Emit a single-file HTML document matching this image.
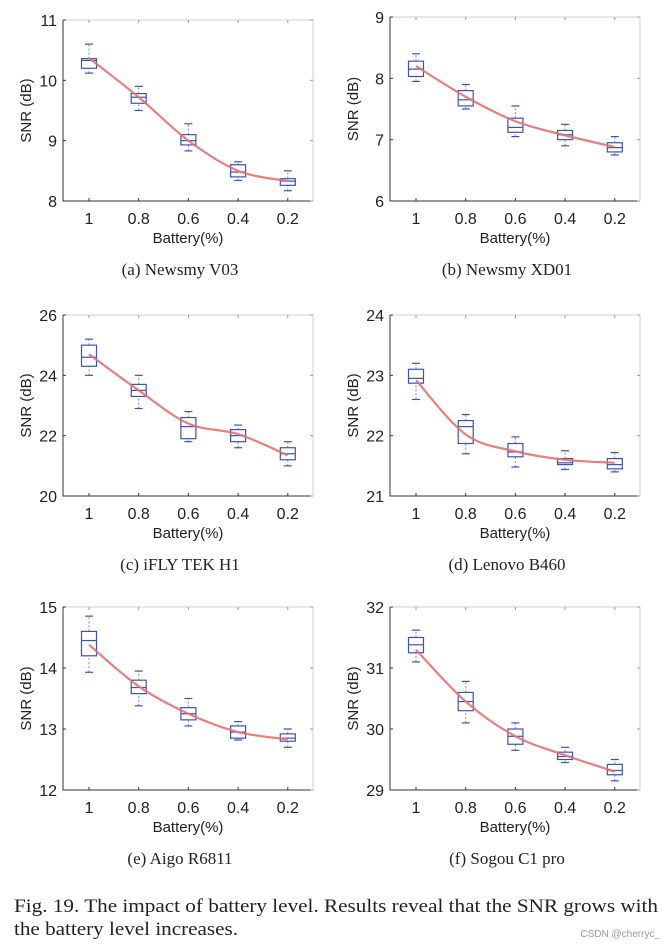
<!DOCTYPE html>
<html><head><meta charset="utf-8"><style>
body{margin:0;background:#fff;width:664px;height:947px;overflow:hidden}
svg{display:block}
.cap{font-family:"Liberation Serif",serif}
</style></head><body>
<svg id="fig" width="664" height="947" xmlns="http://www.w3.org/2000/svg">
<text class="cap" x="14" y="912" font-size="18.5" fill="#222" textLength="644" lengthAdjust="spacingAndGlyphs">Fig. 19.  The impact of battery level. Results reveal that the SNR grows with</text>
<text class="cap" x="14" y="935" font-size="18.5" fill="#222" textLength="224" lengthAdjust="spacingAndGlyphs">the battery level increases.</text>
<text x="660" y="937" text-anchor="end" font-family="Liberation Sans,sans-serif" font-size="10" fill="#999">CSDN @cherryc_</text>
</svg>
<script>
const categories=["1","0.8","0.6","0.4","0.2"];
const titles=["(a) Newsmy V03","(b) Newsmy XD01","(c) iFLY TEK H1","(d) Lenovo B460","(e) Aigo R6811","(f) Sogou C1 pro"];
const yTicksA=[8,9,10,11],yTicksB=[6,7,8,9],yTicksC=[20,22,24,26],yTicksD=[21,22,23,24],yTicksE=[12,13,14,15],yTicksF=[29,30,31,32];
// box stats per category: [whiskerLow,q1,median,q3,whiskerHigh]
const boxesA=[[10.12,10.2,10.33,10.36,10.6],[9.5,9.62,9.72,9.78,9.9],[8.83,8.93,9.0,9.1,9.28],[8.34,8.4,8.48,8.6,8.65],[8.17,8.26,8.33,8.37,8.5]];
const boxesB=[[7.95,8.03,8.15,8.28,8.4],[7.5,7.55,7.65,7.8,7.9],[7.05,7.12,7.2,7.35,7.55],[6.9,7.0,7.08,7.15,7.25],[6.75,6.8,6.87,6.95,7.05]];
const boxesC=[[24.0,24.3,24.6,25.0,25.2],[22.9,23.3,23.5,23.7,24.0],[21.8,21.9,22.3,22.6,22.8],[21.6,21.8,22.0,22.2,22.35],[21.0,21.2,21.4,21.6,21.8]];
const boxesD=[[22.6,22.87,22.95,23.1,23.2],[21.7,21.87,22.15,22.25,22.35],[21.48,21.65,21.73,21.87,21.98],[21.44,21.52,21.55,21.62,21.75],[21.4,21.45,21.52,21.62,21.72]];
const boxesE=[[13.93,14.2,14.45,14.6,14.85],[13.38,13.58,13.68,13.8,13.95],[13.05,13.15,13.25,13.35,13.5],[12.82,12.85,12.95,13.05,13.12],[12.7,12.8,12.85,12.92,13.0]];
const boxesF=[[31.1,31.25,31.38,31.5,31.62],[30.1,30.3,30.45,30.6,30.78],[29.65,29.75,29.88,30.0,30.1],[29.45,29.5,29.55,29.62,29.7],[29.15,29.25,29.32,29.42,29.5]];
const meansA=[10.37,9.72,9.0,8.5,8.33];
const meansB=[8.2,7.7,7.3,7.07,6.88];
const meansC=[24.7,23.5,22.4,22.05,21.35];
const meansD=[22.92,22.02,21.74,21.6,21.55];
const meansE=[14.38,13.7,13.25,12.95,12.83];
const meansF=[31.3,30.45,29.88,29.57,29.3];

const NS="http://www.w3.org/2000/svg";
const svg=document.getElementById('fig');
function mk(t,a,p){const e=document.createElementNS(NS,t);for(const k in a)e.setAttribute(k,a[k]);(p||svg).appendChild(e);return e;}
const panels=[
 {x0:63,y0:20,yt:yTicksA,bx:boxesA,mn:meansA,name:'a'},
 {x0:390,y0:17,yt:yTicksB,bx:boxesB,mn:meansB,name:'b'},
 {x0:63,y0:315,yt:yTicksC,bx:boxesC,mn:meansC,name:'c'},
 {x0:390,y0:315,yt:yTicksD,bx:boxesD,mn:meansD,name:'d'},
 {x0:63,y0:607,yt:yTicksE,bx:boxesE,mn:meansE,name:'e'},
 {x0:390,y0:607,yt:yTicksF,bx:boxesF,mn:meansF,name:'f'}];
const bottoms=[201,201,496,496,790,790];
panels.forEach((P,i)=>{
 const W=250,y1=bottoms[i],H=y1-P.y0;
 const g=mk('g',{});
 
 
 const lo=P.yt[0],hi=P.yt[P.yt.length-1];
 const ys=v=>y1-(v-lo)/(hi-lo)*H;
 const xs=j=>P.x0+26+j*49.7;
 const sans='Liberation Sans, sans-serif';
 mk('path',{d:`M${P.x0} ${P.y0}H${P.x0+W}V${y1}`,fill:'none',stroke:'#d0d0d0','stroke-width':1},g);
 const ax=mk('path',{d:`M${P.x0} ${P.y0}V${y1}H${P.x0+W}`,fill:'none',stroke:'#333','stroke-width':1},g);
 
 P.yt.forEach(t=>{const y=ys(t);
  mk('line',{x1:P.x0,x2:P.x0+3,y1:y,y2:y,stroke:'#333'},g);
  mk('line',{x1:P.x0+W-3,x2:P.x0+W,y1:y,y2:y,stroke:'#999'},g);
  const tx=mk('text',{x:P.x0-6,y:y+6,'text-anchor':'end','font-family':sans,'font-size':16,fill:'#222'},g);tx.textContent=t;
  
 });
 categories.forEach((c,j)=>{const x=xs(j);
  mk('line',{x1:x,x2:x,y1:y1,y2:y1-3,stroke:'#333'},g);
  mk('line',{x1:x,x2:x,y1:P.y0,y2:P.y0+3,stroke:'#999'},g);
  const tx=mk('text',{x:x,y:y1+23,'text-anchor':'middle','font-family':sans,'font-size':16,fill:'#222'},g);tx.textContent=c;
  
  const b=P.bx[j],hw=7.5;
  const bg=mk('g',{stroke:'#3a55b0','stroke-width':1.2,fill:'none'},g);
  
  
  mk('line',{x1:x,x2:x,y1:ys(b[0]),y2:ys(b[1]),'stroke-dasharray':'2,2','stroke-opacity':0.6},bg);
  mk('line',{x1:x,x2:x,y1:ys(b[3]),y2:ys(b[4]),'stroke-dasharray':'2,2','stroke-opacity':0.6},bg);
  mk('line',{x1:x-4,x2:x+4,y1:ys(b[0]),y2:ys(b[0])},bg);
  mk('line',{x1:x-4,x2:x+4,y1:ys(b[4]),y2:ys(b[4])},bg);
  mk('rect',{x:x-hw,y:ys(b[3]),width:2*hw,height:Math.max(1,ys(b[1])-ys(b[3]))},bg);
  mk('line',{x1:x-hw,x2:x+hw,y1:ys(b[2]),y2:ys(b[2])},bg);
 });
 const pts=P.mn.map((v,j)=>[xs(j),ys(v)]);
 let d=`M${pts[0][0]} ${pts[0][1]}`;
 for(let k=0;k<pts.length-1;k++){const p0=pts[Math.max(0,k-1)],p1=pts[k],p2=pts[k+1],p3=pts[Math.min(pts.length-1,k+2)];
  d+=` C${p1[0]+(p2[0]-p0[0])/6} ${p1[1]+(p2[1]-p0[1])/6} ${p2[0]-(p3[0]-p1[0])/6} ${p2[1]-(p3[1]-p1[1])/6} ${p2[0]} ${p2[1]}`;}
 const ln=mk('path',{d:d,fill:'none',stroke:'#e87070','stroke-width':2.2,'stroke-opacity':0.9},g);
 
 
 const yl=mk('text',{transform:`translate(${P.x0-32},${(P.y0+y1)/2}) rotate(-90)`,'text-anchor':'middle','font-family':sans,'font-size':15,fill:'#222'},g);
 yl.textContent='SNR (dB)';
 
 const xl=mk('text',{x:P.x0+W/2,y:y1+42,'text-anchor':'middle','font-family':sans,'font-size':15,fill:'#222'},g);
 xl.textContent='Battery(%)';
 
 const ct=mk('text',{x:P.x0+W/2-8,y:y1+74,'text-anchor':'middle','font-family':'Liberation Serif, serif','font-size':17,fill:'#222'},g);
 ct.textContent=titles[i];
 
});
</script>
</body></html>
